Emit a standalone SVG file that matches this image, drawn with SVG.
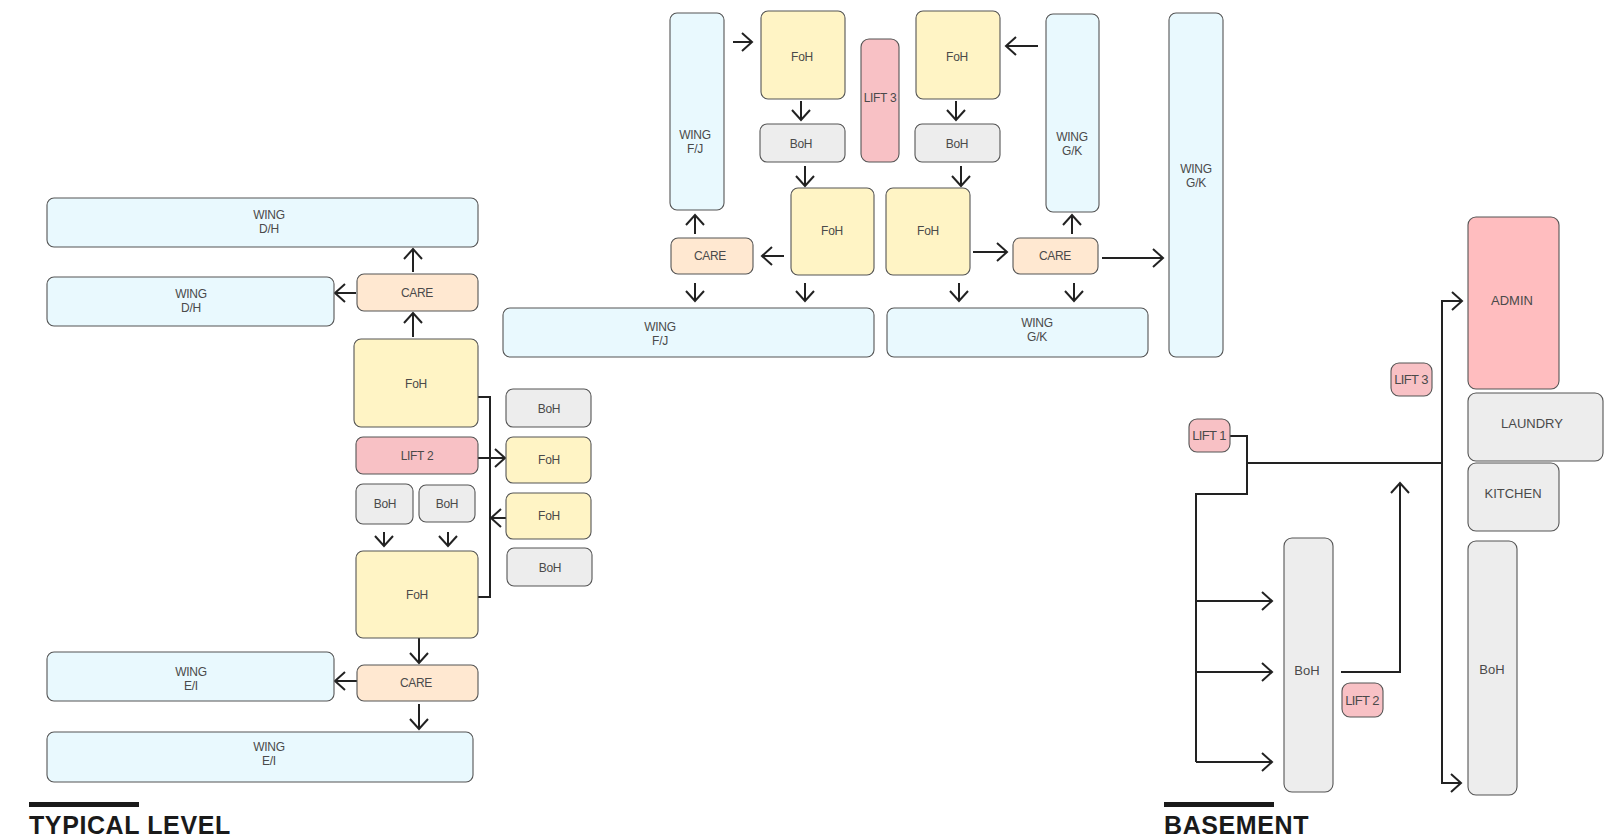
<svg xmlns="http://www.w3.org/2000/svg" width="1618" height="840" viewBox="0 0 1618 840">
<style>
.n{stroke:#555;stroke-width:1.1}
.wing{fill:#e9f9fe}
.foh{fill:#fff4c5}
.care{fill:#ffe8d1}
.lift{fill:#f8c1c5}
.boh{fill:#ededed}
.admin{fill:#ffbdbf}
text{font-family:"Liberation Sans",Arial,sans-serif;fill:#4a4a4a;text-anchor:middle}
.t{font-size:12px;letter-spacing:-0.3px}
.b{font-size:13px}
.title{font-size:25px;font-weight:bold;fill:#1a1a1a;text-anchor:start;letter-spacing:0.6px}
.c{fill:none;stroke:#222;stroke-width:2}
.ca{fill:none;stroke:#222;stroke-width:2;marker-end:url(#arr)}
</style>
<defs>
<marker id="arr" viewBox="-2 -12 14 24" markerWidth="14" markerHeight="24" refX="10" refY="0" orient="auto" markerUnits="userSpaceOnUse">
<path d="M0,-9 L10,0 L0,9" fill="none" stroke="#222" stroke-width="2"/>
</marker>
</defs>
<rect width="1618" height="840" fill="#fff"/>

<g id="connectors">
<!-- typical level left -->
<path class="ca" d="M413,272 V249"/>
<path class="ca" d="M356,293 H335"/>
<path class="ca" d="M413,337 V313"/>
<path class="c" d="M478,397 H490 V597 H478"/>
<path class="ca" d="M478,458 H505"/>
<path class="ca" d="M506,518 H491"/>
<path class="ca" d="M384,532 V546"/>
<path class="ca" d="M448,532 V546"/>
<path class="ca" d="M419,638 V663"/>
<path class="ca" d="M357,681 H335"/>
<path class="ca" d="M419,704 V729"/>
<!-- typical level top -->
<path class="ca" d="M733,42 H752"/>
<path class="ca" d="M801,101 V120"/>
<path class="ca" d="M805,166 V186"/>
<path class="ca" d="M784,256 H762"/>
<path class="ca" d="M695,234 V215"/>
<path class="ca" d="M695,283 V301"/>
<path class="ca" d="M805,283 V301"/>
<path class="ca" d="M956,101 V120"/>
<path class="ca" d="M961,166 V186"/>
<path class="ca" d="M1038,46 H1006"/>
<path class="ca" d="M973,252 H1007"/>
<path class="ca" d="M1072,234 V215"/>
<path class="ca" d="M1102,258 H1163"/>
<path class="ca" d="M959,283 V301"/>
<path class="ca" d="M1074,283 V301"/>
<!-- basement -->
<path class="c" d="M1230,436 H1247 V494 H1196 V762"/>
<path class="ca" d="M1196,762 H1272"/>
<path class="ca" d="M1196,601 H1272"/>
<path class="ca" d="M1196,672 H1272"/>
<path class="c" d="M1247,463 H1442"/>
<path class="ca" d="M1442,463 V301 H1462"/>
<path class="ca" d="M1442,463 V783 H1461"/>
<path class="ca" d="M1341,672 H1400 V483"/>
</g>

<!-- TYPICAL LEVEL: left cluster -->
<g id="wing-dh-1"><rect class="n wing" x="47" y="198" width="431" height="49" rx="7"/><text class="t" x="269" y="219">WING<tspan x="269" dy="14">D/H</tspan></text></g>
<g id="wing-dh-2"><rect class="n wing" x="47" y="277" width="287" height="49" rx="7"/><text class="t" x="191" y="298">WING<tspan x="191" dy="14">D/H</tspan></text></g>
<g id="care-1"><rect class="n care" x="357" y="274" width="121" height="37" rx="7"/><text class="t" x="417" y="297">CARE</text></g>
<g id="foh-1"><rect class="n foh" x="354" y="339" width="124" height="88" rx="7"/><text class="t" x="416" y="388">FoH</text></g>
<g id="boh-r1"><rect class="n boh" x="506" y="389" width="85" height="38" rx="7"/><text class="t" x="549" y="413">BoH</text></g>
<g id="lift-2"><rect class="n lift" x="356" y="437" width="122" height="37" rx="7"/><text class="t" x="417" y="460">LIFT 2</text></g>
<g id="foh-r1"><rect class="n foh" x="506" y="437" width="85" height="46" rx="7"/><text class="t" x="549" y="464">FoH</text></g>
<g id="foh-r2"><rect class="n foh" x="506" y="493" width="85" height="46" rx="7"/><text class="t" x="549" y="520">FoH</text></g>
<g id="boh-r2"><rect class="n boh" x="507" y="548" width="85" height="38" rx="7"/><text class="t" x="550" y="572">BoH</text></g>
<g id="boh-s1"><rect class="n boh" x="356" y="484" width="57" height="40" rx="7"/><text class="t" x="385" y="508">BoH</text></g>
<g id="boh-s2"><rect class="n boh" x="419" y="485" width="56" height="37" rx="7"/><text class="t" x="447" y="508">BoH</text></g>
<g id="foh-2"><rect class="n foh" x="356" y="551" width="122" height="87" rx="7"/><text class="t" x="417" y="599">FoH</text></g>
<g id="care-2"><rect class="n care" x="357" y="665" width="121" height="36" rx="7"/><text class="t" x="416" y="687">CARE</text></g>
<g id="wing-ei-1"><rect class="n wing" x="47" y="652" width="287" height="49" rx="7"/><text class="t" x="191" y="676">WING<tspan x="191" dy="14">E/I</tspan></text></g>
<g id="wing-ei-2"><rect class="n wing" x="47" y="732" width="426" height="50" rx="7"/><text class="t" x="269" y="751">WING<tspan x="269" dy="14">E/I</tspan></text></g>

<!-- TYPICAL LEVEL: top cluster -->
<g id="wing-fj-v"><rect class="n wing" x="670" y="13" width="54" height="197" rx="7"/><text class="t" x="695" y="139">WING<tspan x="695" dy="14">F/J</tspan></text></g>
<g id="foh-t1"><rect class="n foh" x="761" y="11" width="84" height="88" rx="7"/><text class="t" x="802" y="61">FoH</text></g>
<g id="lift-3"><rect class="n lift" x="861" y="39" width="38" height="123" rx="8"/><text class="t" x="880" y="102">LIFT 3</text></g>
<g id="boh-t1"><rect class="n boh" x="760" y="124" width="85" height="38" rx="7"/><text class="t" x="801" y="148">BoH</text></g>
<g id="foh-t2"><rect class="n foh" x="791" y="188" width="83" height="87" rx="7"/><text class="t" x="832" y="235">FoH</text></g>
<g id="care-t1"><rect class="n care" x="671" y="238" width="82" height="36" rx="7"/><text class="t" x="710" y="260">CARE</text></g>
<g id="wing-fj-h"><rect class="n wing" x="503" y="308" width="371" height="49" rx="7"/><text class="t" x="660" y="331">WING<tspan x="660" dy="14">F/J</tspan></text></g>
<g id="foh-t3"><rect class="n foh" x="916" y="11" width="84" height="88" rx="7"/><text class="t" x="957" y="61">FoH</text></g>
<g id="boh-t2"><rect class="n boh" x="915" y="124" width="85" height="38" rx="7"/><text class="t" x="957" y="148">BoH</text></g>
<g id="foh-t4"><rect class="n foh" x="886" y="188" width="84" height="87" rx="7"/><text class="t" x="928" y="235">FoH</text></g>
<g id="wing-gk-v"><rect class="n wing" x="1046" y="14" width="53" height="198" rx="7"/><text class="t" x="1072" y="141">WING<tspan x="1072" dy="14">G/K</tspan></text></g>
<g id="care-t2"><rect class="n care" x="1013" y="238" width="85" height="36" rx="7"/><text class="t" x="1055" y="260">CARE</text></g>
<g id="wing-gk-h"><rect class="n wing" x="887" y="308" width="261" height="49" rx="7"/><text class="t" x="1037" y="327">WING<tspan x="1037" dy="14">G/K</tspan></text></g>
<g id="wing-gk-big"><rect class="n wing" x="1169" y="13" width="54" height="344" rx="7"/><text class="t" x="1196" y="173">WING<tspan x="1196" dy="14">G/K</tspan></text></g>

<!-- BASEMENT -->
<g id="b-lift-1"><rect class="n lift" x="1189" y="419" width="41" height="33" rx="8"/><text class="b" x="1209" y="440" letter-spacing="-0.6">LIFT 1</text></g>
<g id="b-lift-3"><rect class="n lift" x="1391" y="363" width="41" height="33" rx="8"/><text class="b" x="1411" y="384" letter-spacing="-0.6">LIFT 3</text></g>
<g id="b-lift-2"><rect class="n lift" x="1342" y="683" width="41" height="34" rx="8"/><text class="b" x="1362" y="705" letter-spacing="-0.6">LIFT 2</text></g>
<g id="b-admin"><rect class="n admin" x="1468" y="217" width="91" height="172" rx="8"/><text class="b" x="1512" y="305">ADMIN</text></g>
<g id="b-laundry"><rect class="n boh" x="1468" y="393" width="135" height="68" rx="8"/><text class="b" x="1532" y="428">LAUNDRY</text></g>
<g id="b-kitchen"><rect class="n boh" x="1468" y="463" width="91" height="68" rx="8"/><text class="b" x="1513" y="498">KITCHEN</text></g>
<g id="b-boh-1"><rect class="n boh" x="1284" y="538" width="49" height="254" rx="8"/><text class="b" x="1307" y="675">BoH</text></g>
<g id="b-boh-2"><rect class="n boh" x="1468" y="541" width="49" height="254" rx="8"/><text class="b" x="1492" y="674">BoH</text></g>

<!-- titles -->
<g id="title-typical"><rect x="29" y="802" width="110" height="5" fill="#1a1a1a"/><text class="title" x="29" y="834">TYPICAL LEVEL</text></g>
<g id="title-basement"><rect x="1164" y="802" width="110" height="5" fill="#1a1a1a"/><text class="title" x="1164" y="834">BASEMENT</text></g>
</svg>
